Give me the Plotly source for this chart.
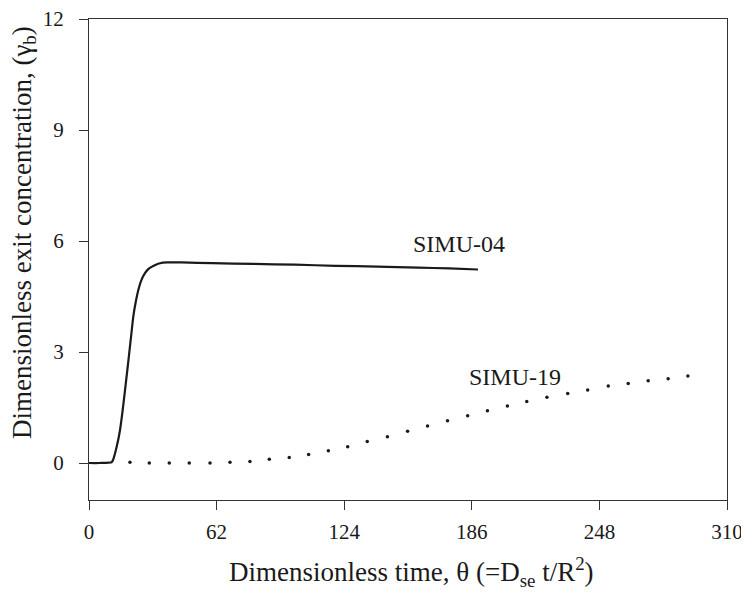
import plotly.graph_objects as go

# SIMU-04 (solid line)
simu04_theta = [0, 5, 11, 11.8, 13.5, 15.1, 16.3, 17.5, 18.6, 19.6, 20.6, 21.5, 22.7, 24,
                25.5, 27.2, 28.8, 30.4, 32.5, 34.5, 38, 45, 60, 80, 100, 120, 140, 160, 175, 189]
simu04_gamma = [0, 0, 0.02, 0.1, 0.45, 0.9, 1.4, 1.97, 2.5, 3.0, 3.5, 3.95, 4.35, 4.68,
                4.95, 5.13, 5.24, 5.3, 5.36, 5.4, 5.42, 5.42, 5.4, 5.38, 5.36, 5.33, 5.31, 5.28, 5.26, 5.23]

# SIMU-19 (dotted)
simu19_theta = [19.9, 29.3, 39.0, 48.7, 58.8, 68.5, 78.2, 87.6, 97.3, 106.7, 116.3, 125.7,
                135.2, 145.0, 154.8, 164.5, 174.2, 184.0, 193.6, 203.3, 212.7, 222.5, 232.6,
                242.3, 252.3, 262.0, 271.7, 281.4, 291.0]
simu19_gamma = [0.02, 0.0, 0.0, 0.0, 0.0, 0.02, 0.04, 0.1, 0.15, 0.23, 0.33, 0.44,
                0.58, 0.71, 0.86, 1.0, 1.14, 1.28, 1.41, 1.54, 1.66, 1.78, 1.88,
                1.97, 2.08, 2.15, 2.22, 2.28, 2.35]

x_ticks = [0, 62, 124, 186, 248, 310]
y_ticks = [0, 3, 6, 9, 12]

FONT = "Liberation Serif"
INK = "#1a1a1a"

fig = go.Figure()
fig.add_trace(go.Scatter(x=simu04_theta, y=simu04_gamma, mode="lines",
                         line=dict(color=INK, width=2.2, shape="spline", smoothing=0.6),
                         showlegend=False))
fig.add_trace(go.Scatter(x=simu19_theta, y=simu19_gamma, mode="markers",
                         marker=dict(color=INK, size=3.5), showlegend=False))

fig.add_annotation(x=180, y=5.92, text="SIMU-04", showarrow=False,
                   font=dict(family=FONT, size=24, color=INK))
fig.add_annotation(x=207, y=2.32, text="SIMU-19", showarrow=False,
                   font=dict(family=FONT, size=24, color=INK))

fig.add_annotation(xref="paper", yref="paper", x=-0.102, y=0.557,
                   text="Dimensionless exit concentration, (γ<sub>b</sub>)",
                   textangle=-90, showarrow=False, xanchor="center", yanchor="middle",
                   font=dict(family=FONT, size=27, color=INK))
fig.add_annotation(xref="paper", yref="paper", x=0.505, y=-0.149,
                   text="Dimensionless time, θ (=D<sub>se</sub> t/R<sup>2</sup>)",
                   showarrow=False, xanchor="center", yanchor="middle",
                   font=dict(family=FONT, size=27, color=INK))

axis_common = dict(showgrid=False, zeroline=False, showline=True, linecolor="#333",
                   linewidth=1.3, mirror=True, ticks="outside", ticklen=9, tickwidth=1.2,
                   tickcolor="#333", automargin=False, ticklabeloverflow="allow",
                   tickfont=dict(family=FONT, size=21, color=INK))

fig.update_xaxes(range=[0, 310], tickvals=x_ticks, ticktext=[str(v) for v in x_ticks],
                 ticklabelstandoff=4, **axis_common)
fig.update_yaxes(range=[-1, 12], tickvals=y_ticks, ticktext=[str(v) for v in y_ticks],
                 ticklabelstandoff=11, **axis_common)

# page body has an 8px default margin, so the figure is 8px smaller and offset
fig.update_layout(width=741, height=584, margin=dict(l=81, r=22, t=11, b=92),
                  plot_bgcolor="white", paper_bgcolor="white",
                  font=dict(family=FONT, color=INK))

fig.write_html("out.html")
